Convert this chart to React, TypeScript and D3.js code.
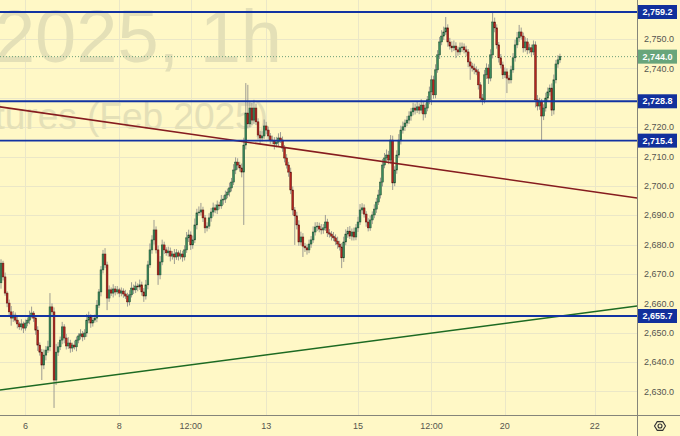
import React from "react";
import * as d3 from "d3";

// ---- data ----
const firstOpen = 2667.0;
const closes = [
  2673.7, 2669.0, 2663.5, 2660.1, 2657.1, 2655.0, 2656.0, 2654.3, 2653.0, 2652.0,
  2653.0, 2651.6, 2653.3, 2654.3, 2655.7, 2656.7, 2655.0, 2650.9, 2645.8, 2643.4,
  2639.0, 2642.4, 2644.1, 2645.2, 2658.8, 2657.1, 2633.9, 2643.4, 2645.2, 2647.5,
  2652.0, 2648.2, 2645.5, 2646.5, 2644.8, 2645.8, 2645.2, 2647.5, 2648.9, 2649.6,
  2648.6, 2649.9, 2654.3, 2655.4, 2653.3, 2654.3, 2655.0, 2659.4, 2663.9, 2671.4,
  2676.8, 2673.1, 2661.8, 2664.6, 2663.5, 2664.9, 2663.9, 2664.6, 2663.5, 2664.2,
  2663.2, 2662.5, 2660.5, 2662.9, 2665.2, 2664.6, 2665.9, 2665.6, 2666.3, 2663.9,
  2662.5, 2666.3, 2673.1, 2678.2, 2681.6, 2685.0, 2678.2, 2669.7, 2674.1, 2679.9,
  2678.2, 2677.2, 2677.8, 2676.1, 2676.8, 2675.8, 2677.2, 2676.1, 2676.8, 2675.8,
  2678.2, 2682.3, 2683.3, 2679.9, 2681.6, 2686.7, 2690.8, 2691.1, 2691.8, 2689.1,
  2685.7, 2686.3, 2689.1, 2691.1, 2692.5, 2691.8, 2693.5, 2693.2, 2695.2, 2695.5,
  2696.9, 2697.9, 2699.3, 2701.3, 2705.4, 2708.1, 2707.1, 2706.1, 2704.7, 2713.9,
  2724.8, 2721.1, 2726.5, 2722.4, 2726.5, 2721.8, 2717.3, 2716.3, 2717.0, 2720.4,
  2719.0, 2717.0, 2715.6, 2715.3, 2714.3, 2714.9, 2716.3, 2715.6, 2712.9, 2709.5,
  2707.1, 2704.7, 2698.6, 2691.8, 2689.8, 2686.7, 2680.9, 2682.6, 2679.5, 2678.9,
  2678.2, 2680.2, 2681.6, 2684.3, 2686.0, 2686.3, 2685.3, 2685.0, 2685.7, 2687.7,
  2684.0, 2683.6, 2682.9, 2682.3, 2681.2, 2680.2, 2679.2, 2675.5, 2680.9, 2683.6,
  2684.6, 2682.9, 2684.3, 2682.6, 2685.7, 2687.7, 2691.8, 2692.5, 2690.4, 2687.7,
  2685.7, 2688.4, 2690.1, 2692.1, 2694.5, 2696.9, 2701.3, 2707.1, 2709.5, 2710.5,
  2708.8, 2715.6, 2701.0, 2705.4, 2710.5, 2715.6, 2719.0, 2720.1, 2721.4, 2722.4,
  2723.8, 2725.2, 2726.5, 2725.8, 2726.9, 2725.8, 2727.5, 2724.5, 2726.5, 2729.3,
  2732.0, 2736.1, 2731.0, 2739.5, 2744.6, 2749.0, 2751.0, 2752.4, 2753.8, 2749.0,
  2747.6, 2747.0, 2747.6, 2746.3, 2745.6, 2747.0, 2747.3, 2746.3, 2745.6, 2742.2,
  2740.8, 2740.1, 2739.5, 2738.8, 2734.4, 2729.9, 2729.3, 2737.8, 2740.1, 2736.7,
  2744.6, 2755.8, 2753.8, 2748.0, 2743.6, 2741.2, 2737.8, 2738.8, 2736.7, 2736.1,
  2739.5, 2743.6, 2748.0, 2750.4, 2752.4, 2751.0, 2747.0, 2749.0, 2746.3, 2747.0,
  2745.6, 2748.0, 2729.3, 2727.2, 2728.6, 2723.8, 2726.5, 2729.9, 2732.0, 2733.3,
  2725.8, 2736.1, 2741.5, 2742.9, 2744.0,
];
const wickUp = [
  1.3, 0.8, 1.5, 0.6, 1.2, 2.0, 1.4, 0.9, 1.1, 0.7,
  1.6, 0.8, 1.2, 0.9, 1.8, 2.2, 0.7, 1.0, 1.3, 0.9,
  1.1, 1.9, 1.4, 2.1, 4.7, 1.2, 1.5, 2.8, 1.6, 1.2,
  1.7, 0.9, 1.4, 2.0, 1.1, 0.8, 1.5, 1.2, 0.9, 1.6,
  1.0, 1.3, 2.1, 1.8, 0.9, 1.4, 1.2, 1.7, 1.0, 1.3,
  1.4, 2.0, 1.1, 1.5, 0.8, 1.6, 1.0, 1.3, 0.7, 1.2,
  0.9, 1.4, 1.1, 1.6, 2.0, 1.2, 1.5, 0.9, 1.8, 1.1,
  1.3, 1.7, 1.4, 2.2, 1.6, 3.4, 1.2, 1.5, 2.0, 1.8,
  1.1, 0.9, 1.5, 1.2, 1.0, 1.7, 1.3, 0.8, 1.4, 1.1,
  1.6, 2.0, 1.8, 1.2, 1.5, 2.2, 1.4, 1.9, 2.4, 1.1,
  1.0, 1.3, 1.6, 1.4, 1.8, 1.2, 1.5, 1.1, 1.7, 1.3,
  1.5, 1.2, 1.8, 1.4, 2.0, 1.6, 1.3, 1.1, 1.5, 2.5,
  10.2, 9.6, 2.0, 1.8, 2.8, 1.5, 1.2, 1.4, 1.6, 2.2,
  1.4, 1.2, 1.0, 1.5, 1.3, 1.8, 1.6, 2.0, 1.2, 1.0,
  1.3, 1.1, 1.5, 1.2, 1.0, 1.4, 1.6, 1.8, 1.3, 1.1,
  1.2, 1.5, 1.3, 1.9, 1.6, 1.4, 1.2, 1.7, 1.3, 2.4,
  1.1, 1.3, 1.0, 1.4, 1.2, 1.5, 1.1, 1.3, 1.8, 1.6,
  1.4, 1.7, 1.2, 1.5, 1.3, 1.8, 2.0, 1.6, 1.2, 1.0,
  1.3, 1.5, 1.2, 1.6, 1.4, 1.8, 1.5, 2.1, 1.7, 1.9,
  1.4, 1.7, 1.5, 1.3, 1.6, 2.0, 1.5, 1.8, 1.2, 1.4,
  1.6, 1.3, 1.8, 1.5, 1.7, 1.2, 2.0, 1.4, 1.6, 1.3,
  1.8, 1.5, 1.4, 1.9, 1.6, 1.7, 2.0, 1.8, 3.7, 1.2,
  1.4, 1.6, 1.9, 1.3, 1.1, 1.8, 1.5, 1.2, 1.4, 1.0,
  1.3, 1.1, 1.5, 1.2, 1.0, 0.9, 1.4, 1.7, 1.6, 1.3,
  1.9, 3.4, 1.5, 1.2, 1.0, 1.3, 1.1, 1.5, 1.2, 1.0,
  1.4, 1.6, 1.8, 2.0, 2.4, 1.5, 1.2, 1.6, 1.3, 1.4,
  1.1, 1.5, 1.2, 1.6, 1.4, 1.0, 1.3, 1.8, 1.5, 1.2,
  1.6, 1.8, 1.4, 1.6, 1.0,
];
const wickDn = [
  2.0, 1.2, 0.9, 1.4, 1.1, 2.6, 1.3, 0.8, 1.5, 1.0,
  1.2, 1.7, 0.9, 1.1, 1.4, 0.8, 1.3, 1.6, 2.0, 1.2,
  5.1, 1.4, 1.8, 1.0, 1.5, 1.2, 9.5, 1.7, 1.3, 1.1,
  1.4, 1.8, 1.2, 1.0, 1.6, 1.3, 0.9, 1.5, 1.1, 1.2,
  1.5, 1.0, 1.3, 1.1, 1.6, 1.2, 0.9, 1.4, 1.0, 1.5,
  1.2, 1.1, 4.1, 1.3, 1.0, 1.5, 1.2, 0.8, 1.4, 1.1,
  1.3, 1.0, 1.6, 1.2, 0.9, 1.4, 1.1, 1.5, 1.0, 1.3,
  2.0, 1.2, 1.5, 1.0, 1.3, 1.6, 1.2, 3.4, 1.5, 1.1,
  1.4, 1.0, 1.3, 1.8, 1.2, 2.4, 1.0, 1.5, 1.1, 1.6,
  1.2, 1.0, 1.4, 1.7, 1.3, 1.1, 1.5, 1.0, 1.2, 1.4,
  1.8, 1.2, 1.0, 1.3, 1.5, 1.1, 1.4, 1.2, 1.0, 1.6,
  1.3, 1.1, 1.5, 1.2, 1.0, 1.4, 1.6, 1.3, 1.8, 18.0,
  1.5, 1.4, 1.2, 1.6, 1.3, 1.1, 1.5, 1.8, 1.2, 1.0,
  1.4, 1.6, 1.3, 1.1, 1.9, 1.2, 1.4, 1.0, 1.3, 1.5,
  1.2, 1.6, 1.4, 1.8, 9.9, 1.5, 1.3, 1.2, 3.7, 1.4,
  1.6, 1.1, 1.3, 1.0, 1.2, 1.4, 1.1, 1.5, 1.3, 1.0,
  1.4, 1.2, 1.5, 1.1, 1.3, 1.6, 1.2, 3.5, 1.4, 1.1,
  1.3, 1.0, 1.5, 1.2, 1.1, 1.4, 1.0, 1.3, 1.2, 1.6,
  1.2, 1.0, 1.4, 1.1, 1.3, 1.0, 1.2, 1.5, 1.1, 1.3,
  1.4, 1.2, 2.4, 1.1, 1.3, 1.0, 1.5, 1.2, 1.4, 1.1,
  1.3, 1.6, 1.2, 1.5, 1.0, 1.4, 1.2, 2.2, 1.3, 1.1,
  1.5, 4.5, 1.3, 1.2, 1.0, 1.4, 1.1, 1.3, 1.0, 1.6,
  1.2, 1.5, 1.1, 2.8, 1.3, 1.0, 1.4, 1.2, 1.5, 1.8,
  4.7, 1.2, 1.5, 1.1, 1.6, 1.3, 1.8, 1.2, 1.4, 2.0,
  1.1, 1.2, 1.5, 1.3, 1.6, 1.2, 1.4, 1.1, 5.1, 1.3,
  1.2, 1.0, 1.3, 1.1, 1.4, 1.2, 1.6, 1.3, 1.5, 1.2,
  1.4, 1.1, 2.6, 1.5, 1.3, 8.2, 1.4, 1.2, 1.1, 1.3,
  2.0, 1.5, 1.2, 1.3, 1.0,
];

const levels = [2759.2, 2728.8, 2715.4, 2655.7];
const priceTicks = [2630, 2640, 2650, 2660, 2670, 2680, 2690, 2700, 2710, 2720, 2730, 2740, 2750];
const timeTickBars = [12, 58, 93, 130, 175, 211, 247, 291];
const timeTickLabels = ["6", "8", "12:00", "13", "15", "12:00", "20", "22"];
// trend lines: [bar index, price]
const trendRed = [[-0.5, 2726.9], [311.8, 2695.9]];
const trendGreen = [[-0.5, 2630.5], [311.8, 2659.1]];
const watermark = ["GCG2025, 1h", "Gold Futures (Feb 2025)"];

// ---- layout ----
const W = 680, H = 436;
const plotR = 637.5, plotB = 415.5;
const pitch = 2.04;

export default function App() {
  const opens = closes.map((c, i) => (i === 0 ? firstOpen : closes[i - 1]));
  const x = d3.scaleLinear().domain([0, closes.length - 1]).range([1, 1 + (closes.length - 1) * pitch]);
  const y = d3.scaleLinear().domain([2655.7, 2759.2]).range([316, 12]);
  const fmt = d3.format(",.1f");
  const last = closes[closes.length - 1];
  const lineGen = d3.line<number[]>().x((d) => x(d[0])).y((d) => y(d[1]));
  const font = "'Liberation Sans', Arial, sans-serif";

  return (
    <svg width={W} height={H} style={{ position: "absolute", left: 0, top: 0, display: "block" }}
      xmlns="http://www.w3.org/2000/svg">
      <defs>
        <clipPath id="plot"><rect x={0} y={0} width={plotR} height={plotB} /></clipPath>
      </defs>
      <rect x={0} y={0} width={W} height={H} fill="#fff8c6" />
      <g clipPath="url(#plot)">
        {/* grid */}
        {priceTicks.map((p) => (
          <line key={"gh" + p} x1={0} x2={plotR} y1={Math.round(y(p)) + 0.5} y2={Math.round(y(p)) + 0.5}
            stroke="#ebe7c7" strokeWidth={1} />
        ))}
        {timeTickBars.map((b) => (
          <line key={"gv" + b} x1={Math.round(x(b)) + 0.5} x2={Math.round(x(b)) + 0.5} y1={0} y2={plotB}
            stroke="#ebe7c7" strokeWidth={1} />
        ))}
        {/* watermark */}
        <text x={282} y={62} textAnchor="end" fontFamily={font} fontSize={74} fill="#e4e0b7">{watermark[0]}</text>
        <text x={268} y={129} textAnchor="end" fontFamily={font} fontSize={37} fill="#e4e0b7">{watermark[1]}</text>
        {/* last price dotted */}
        <line x1={0} x2={plotR} y1={y(last)} y2={y(last)} stroke="#6a9e78" strokeWidth={1} strokeDasharray="1,2" />
        {/* candles */}
        {closes.map((c, i) => {
          const o = opens[i];
          const up = c >= o;
          const hi = Math.max(o, c) + wickUp[i];
          const lo = Math.min(o, c) - wickDn[i];
          const top = y(Math.max(o, c));
          const h = Math.max(0.8, y(Math.min(o, c)) - top);
          const cx = x(i);
          return (
            <g key={i}>
              <line x1={cx} x2={cx} y1={y(hi)} y2={y(lo)} stroke="#9d9c92" strokeWidth={1} />
              <rect x={cx - 0.9} y={top} width={1.8} height={h}
                fill={up ? "#3b8a5c" : "#b3251e"} stroke={up ? "#1d4a31" : "#5a1511"} strokeWidth={0.5} />
            </g>
          );
        })}
        {/* trend lines */}
        <path d={lineGen(trendRed) || ""} stroke="#861c1f" strokeWidth={1.6} fill="none" />
        <path d={lineGen(trendGreen) || ""} stroke="#1d6a22" strokeWidth={1.6} fill="none" />
        {/* levels */}
        {levels.map((p) => (
          <line key={"lv" + p} x1={0} x2={plotR} y1={y(p)} y2={y(p)} stroke="#1233a2" strokeWidth={1.9} />
        ))}
      </g>
      {/* axes */}
      <line x1={plotR} x2={plotR} y1={0} y2={H} stroke="#85857a" strokeWidth={1} />
      <line x1={0} x2={W} y1={plotB} y2={plotB} stroke="#85857a" strokeWidth={1} />
      {priceTicks.map((p) => (
        <text key={"pt" + p} x={659} y={y(p)} dy="0.35em" textAnchor="middle" fontFamily={font} fontSize={9}
          fill="#55554f">{fmt(p)}</text>
      ))}
      {timeTickBars.map((b, k) => (
        <text key={"tt" + b} x={x(b)} y={426} dy="0.35em" textAnchor="middle" fontFamily={font} fontSize={9}
          fill="#55554f">{timeTickLabels[k]}</text>
      ))}
      {/* price labels */}
      {levels.map((p) => (
        <g key={"lb" + p}>
          <rect x={638} y={y(p) - 7} width={39} height={14} fill="#12309c" />
          <text x={657.5} y={y(p)} dy="0.35em" textAnchor="middle" fontFamily={font} fontSize={9}
            fontWeight="bold" fill="#ffffff">{fmt(p)}</text>
        </g>
      ))}
      <g>
        <rect x={638} y={y(last) - 7} width={39} height={14} fill="#68a57b" />
        <text x={657.5} y={y(last)} dy="0.35em" textAnchor="middle" fontFamily={font} fontSize={9}
          fontWeight="bold" fill="#ffffff">{fmt(last)}</text>
      </g>
      {/* settings icon */}
      <g transform="translate(660,426)" fill="none" stroke="#333" strokeWidth={1.1}>
        <path d={d3.range(6).map((k) => {
          const a = (Math.PI / 3) * k;
          return (k === 0 ? "M" : "L") + (5.5 * Math.cos(a)).toFixed(2) + "," + (5 * Math.sin(a)).toFixed(2);
        }).join("") + "Z"} />
        <circle r={2} />
      </g>
    </svg>
  );
}
